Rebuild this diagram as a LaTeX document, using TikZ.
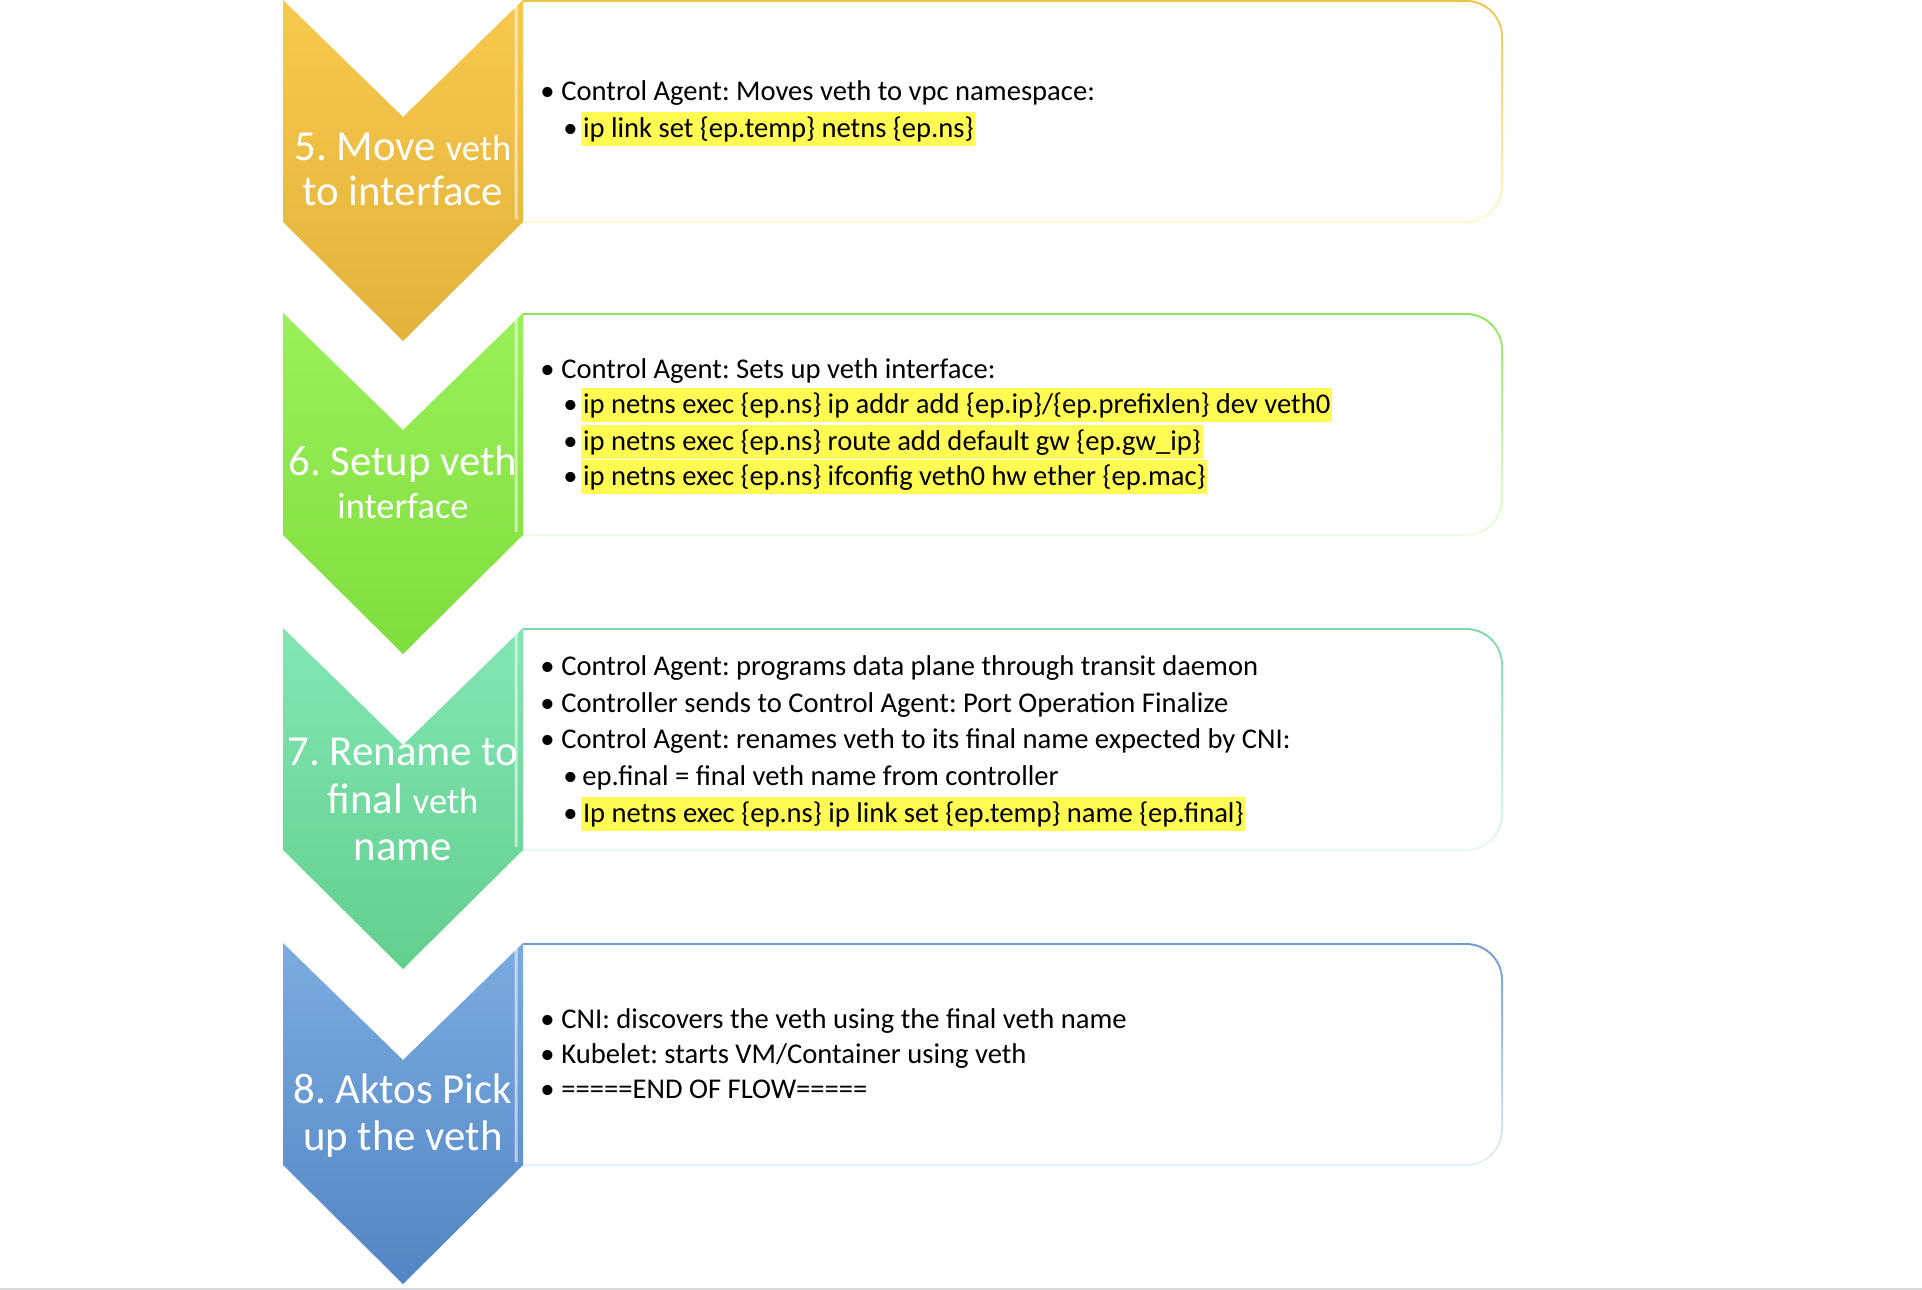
\documentclass[tikz,border=0pt]{standalone}
\usepackage{fontspec}
\setmainfont{Carlito}
\usepackage{tikz}
\usetikzlibrary{positioning}
\frenchspacing

\definecolor{goldtop}{HTML}{F7C94B}
\definecolor{goldbot}{HTML}{E2B23B}
\definecolor{goldline}{HTML}{F0C242}
\definecolor{goldfade}{HTML}{FFF8D0}
\definecolor{greentop}{HTML}{9AF05A}
\definecolor{greenbot}{HTML}{80DD3E}
\definecolor{greenline}{HTML}{8EE45A}
\definecolor{greenfade}{HTML}{EEFBE2}
\definecolor{tealtop}{HTML}{82E6B4}
\definecolor{tealbot}{HTML}{63CF8E}
\definecolor{tealline}{HTML}{78D9A8}
\definecolor{tealfade}{HTML}{E6FAF0}
\definecolor{bluetop}{HTML}{7BABE0}
\definecolor{bluebot}{HTML}{5285C4}
\definecolor{blueline}{HTML}{6A98D0}
\definecolor{bluefade}{HTML}{E6F0FA}
\definecolor{hlyellow}{HTML}{FFFB52}

\begin{document}
\begin{tikzpicture}[x=0.5pt,y=-0.5pt,
                    font=\fontsize{14.3}{17}\selectfont]
\tikzstyle{bul}=[anchor=base west,inner sep=0pt]
\tikzstyle{txt}=[anchor=base west,inner sep=0pt]
\tikzstyle{hl}=[anchor=base west,fill=hlyellow,inner xsep=0.8pt,inner ysep=0pt,
                text height=12.5pt,text depth=4.5pt]
\tikzstyle{steplabel}=[anchor=base,text=white,inner sep=0pt,
                       font=\fontsize{21.4}{25}\selectfont]
\tikzstyle{bevel}=[white,opacity=0.55,line width=1.5pt]
\newcommand{\sm}{\fontsize{18.2}{22}\selectfont}

  \useasboundingbox (0,0) rectangle (1922,1290);
  \fill[white] (0,0) rectangle (1922,1290);
  \draw[black!15,line width=1pt] (0,1289) -- (1922,1289);

  % step 5
  \begin{scope}
    \shade[top color=goldline,bottom color=goldfade] (523,0) -- (1466,0) .. controls (1486.4,0) and (1503,16.6) .. (1503,37) -- (1503,186) .. controls (1503,206.4) and (1486.4,223) .. (1466,223) -- (523,223) -- cycle;
    \fill[white] (523,2) -- (1466,2) .. controls (1485.3,2) and (1501,17.7) .. (1501,37) -- (1501,186) .. controls (1501,205.3) and (1485.3,221) .. (1466,221) -- (523,221) -- cycle;
    \shade[top color=goldtop,bottom color=goldbot] (283,0) -- (403,117) -- (523,0) -- (523,222) -- (403,341) -- (283,222) -- cycle;
    \draw[bevel] (405,111) -- (516,3) -- (516,219);

    \node[steplabel] (s5a) at (403,160) {5. Move {\sm veth}};
    \node[steplabel] (s5b) at (403,205) {to interface};

    \node[bul] (b5a) at (540,100) {\textbullet};
    \node[txt] (t5a) at (561,100) {Control Agent: Moves veth to vpc namespace:};
    \node[bul] (b5b) at (563,137) {\textbullet};
    \node[hl]  (t5b) at (581,137) {ip link set \{ep.temp\} netns \{ep.ns\}};
  \end{scope}

  % step 6
  \begin{scope}[shift={(0,313)}]
    \shade[top color=greenline,bottom color=greenfade] (523,0) -- (1466,0) .. controls (1486.4,0) and (1503,16.6) .. (1503,37) -- (1503,186) .. controls (1503,206.4) and (1486.4,223) .. (1466,223) -- (523,223) -- cycle;
    \fill[white] (523,2) -- (1466,2) .. controls (1485.3,2) and (1501,17.7) .. (1501,37) -- (1501,186) .. controls (1501,205.3) and (1485.3,221) .. (1466,221) -- (523,221) -- cycle;
    \shade[top color=greentop,bottom color=greenbot] (283,0) -- (403,117) -- (523,0) -- (523,222) -- (403,341) -- (283,222) -- cycle;
    \draw[bevel] (405,111) -- (516,3) -- (516,219);

    \node[steplabel] (s6a) at (403,162) {6. Setup veth};
    \node[steplabel] (s6b) at (403,205) {\sm interface};

    \node[bul] (b6a) at (540,65) {\textbullet};
    \node[txt] (t6a) at (561,65) {Control Agent: Sets up veth interface:};
    \node[bul] (b6b) at (563,100) {\textbullet};
    \node[hl]  (t6b) at (581,100) {ip netns exec \{ep.ns\} ip addr add \{ep.ip\}/\{ep.prefixlen\} dev veth0};
    \node[bul] (b6c) at (563,137) {\textbullet};
    \node[hl]  (t6c) at (581,137) {ip netns exec \{ep.ns\} route add default gw \{ep.gw\_ip\}};
    \node[bul] (b6d) at (563,172) {\textbullet};
    \node[hl]  (t6d) at (581,172) {ip netns exec \{ep.ns\} ifconfig veth0 hw ether \{ep.mac\}};
  \end{scope}

  % step 7
  \begin{scope}[shift={(0,628)}]
    \shade[top color=tealline,bottom color=tealfade] (523,0) -- (1466,0) .. controls (1486.4,0) and (1503,16.6) .. (1503,37) -- (1503,186) .. controls (1503,206.4) and (1486.4,223) .. (1466,223) -- (523,223) -- cycle;
    \fill[white] (523,2) -- (1466,2) .. controls (1485.3,2) and (1501,17.7) .. (1501,37) -- (1501,186) .. controls (1501,205.3) and (1485.3,221) .. (1466,221) -- (523,221) -- cycle;
    \shade[top color=tealtop,bottom color=tealbot] (283,0) -- (403,117) -- (523,0) -- (523,222) -- (403,341) -- (283,222) -- cycle;
    \draw[bevel] (405,111) -- (516,3) -- (516,219);

    \node[steplabel] (s7a) at (403,137) {7. Rename to};
    \node[steplabel] (s7b) at (403,185) {final {\sm veth}};
    \node[steplabel] (s7c) at (403,232) {name};

    \node[bul] (b7a) at (540,47) {\textbullet};
    \node[txt] (t7a) at (561,47) {Control Agent: programs data plane through transit daemon};
    \node[bul] (b7b) at (540,84) {\textbullet};
    \node[txt] (t7b) at (561,84) {Controller sends to Control Agent: Port Operation Finalize};
    \node[bul] (b7c) at (540,120) {\textbullet};
    \node[txt] (t7c) at (561,120) {Control Agent: renames veth to its final name expected by CNI:};
    \node[bul] (b7d) at (563,157) {\textbullet};
    \node[txt] (t7d) at (582,157) {ep.final = final veth name from controller};
    \node[bul] (b7e) at (563,194) {\textbullet};
    \node[hl]  (t7e) at (581,194) {Ip netns exec \{ep.ns\} ip link set \{ep.temp\} name \{ep.final\}};
  \end{scope}

  % step 8
  \begin{scope}[shift={(0,943)}]
    \shade[top color=blueline,bottom color=bluefade] (523,0) -- (1466,0) .. controls (1486.4,0) and (1503,16.6) .. (1503,37) -- (1503,186) .. controls (1503,206.4) and (1486.4,223) .. (1466,223) -- (523,223) -- cycle;
    \fill[white] (523,2) -- (1466,2) .. controls (1485.3,2) and (1501,17.7) .. (1501,37) -- (1501,186) .. controls (1501,205.3) and (1485.3,221) .. (1466,221) -- (523,221) -- cycle;
    \shade[top color=bluetop,bottom color=bluebot] (283,0) -- (403,117) -- (523,0) -- (523,222) -- (403,341) -- (283,222) -- cycle;
    \draw[bevel] (405,111) -- (516,3) -- (516,219);

    \node[steplabel] (s8a) at (403,160) {8. Aktos Pick};
    \node[steplabel] (s8b) at (403,207) {up the veth};

    \node[bul] (b8a) at (540,85) {\textbullet};
    \node[txt] (t8a) at (561,85) {CNI: discovers the veth using the final veth name};
    \node[bul] (b8b) at (540,120) {\textbullet};
    \node[txt] (t8b) at (561,120) {Kubelet: starts VM/Container using veth};
    \node[bul] (b8c) at (540,155) {\textbullet};
    \node[txt] (t8c) at (561,155) {=====END OF FLOW=====};
  \end{scope}

\end{tikzpicture}
\end{document}
